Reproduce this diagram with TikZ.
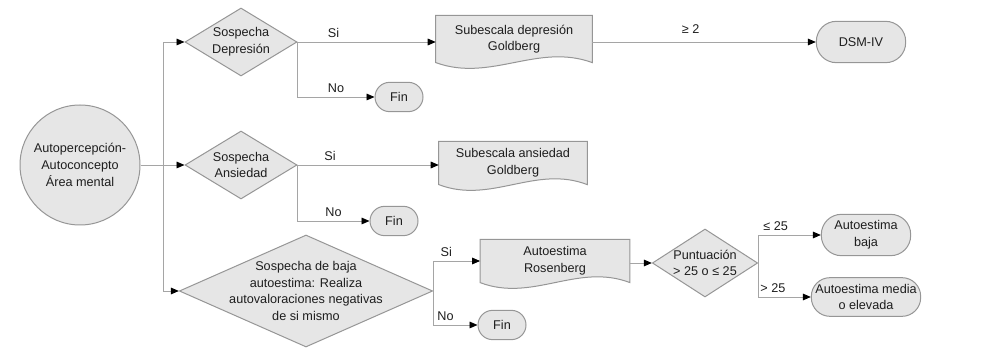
\documentclass[tikz,border=0pt]{standalone}
\usepackage{fontspec}
\setmainfont{Liberation Sans}
\usepackage{tikz}
\usetikzlibrary{shapes.geometric}
\usetikzlibrary{arrows.meta}
\usetikzlibrary{backgrounds}
\usetikzlibrary{calc}

\definecolor{boxfill}{RGB}{230,230,230}
\definecolor{boxline}{RGB}{150,150,150}
\definecolor{wire}{RGB}{165,165,165}
\definecolor{ink}{RGB}{30,30,30}

\tikzset{
  txt/.style={font=\fontsize{9.5}{12.5}\selectfont, text=ink, align=center},
  start/.style={txt, circle, draw=boxline, fill=boxfill, line width=0.75pt, minimum size=90pt, inner sep=0pt},
  decision/.style={txt, diamond, draw=boxline, fill=boxfill, line width=0.75pt, inner sep=-10pt},
  doc/.style={txt, rectangle, inner sep=0pt},
  term/.style={txt, rectangle, draw=boxline, fill=boxfill, line width=0.75pt, inner sep=1pt},
  fin/.style={term, minimum width=36pt, minimum height=22pt, rounded corners=11pt},
  flow/.style={draw=wire, line width=0.7pt, -{Triangle[color=black, length=6pt, width=5pt]}},
  lbl/.style={txt, above, inner sep=3pt},
}

% document box with wavy bottom, drawn behind the node text
\newcommand{\docwave}[1]{%
  \begin{scope}[on background layer]
    \filldraw[draw=boxline, fill=boxfill, line width=0.75pt]
      (#1.south west) -- (#1.north west) -- (#1.north east) -- (#1.south east)
      .. controls ($(#1.south east)!0.35!(#1.south west)+(0,-20)$)
      and ($(#1.south east)!0.65!(#1.south west)+(0,20)$) .. (#1.south west) -- cycle;
  \end{scope}}

\begin{document}
\begin{tikzpicture}[x=0.75pt, y=-0.75pt]
  \useasboundingbox (0,0) rectangle (1006,348);

  % Define nodes
  \node[start] (self) at (80,165) {Autopercepción-\\Autoconcepto\\Área mental};
  \coordinate (trunk) at (163,165);
  \node[decision, aspect=1.65, minimum width=84pt, minimum height=51pt] (dep) at (241,42) {Sospecha\\Depresión};
  \node[decision, aspect=1.65, minimum width=84pt, minimum height=51pt] (anx) at (241,165) {Sospecha\\Ansiedad};
  \node[decision, aspect=2.26, minimum width=190pt, minimum height=84pt] (est) at (306,291)
    {Sospecha de baja\\autoestima: Realiza\\autovaloraciones negativas\\de si mismo};
  \node[doc, minimum width=117pt, minimum height=35pt] (gdep) at (514,39) {Subescala depresión\\Goldberg};
  \node[doc, minimum width=111pt, minimum height=32pt] (ganx) at (513,163) {Subescala ansiedad\\Goldberg};
  \node[doc, minimum width=112pt, minimum height=32pt] (rosen) at (555,261) {Autoestima\\Rosenberg};
  \node[decision, aspect=1.55, minimum width=79pt, minimum height=51pt] (score) at (705,263) {Puntuación\\> 25 o ≤ 25};
  \node[fin] (fin1) at (399,97) {Fin};
  \node[fin] (fin2) at (394,221) {Fin};
  \node[fin] (fin3) at (502,325) {Fin};
  \node[term, minimum width=67pt, minimum height=31pt, rounded corners=15pt] (dsm) at (861,42) {DSM-IV};
  \node[term, minimum width=67pt, minimum height=31pt, rounded corners=15pt] (low) at (866,235) {Autoestima\\baja};
  \node[term, minimum width=82pt, minimum height=29pt, rounded corners=14pt] (high) at (866,297) {Autoestima media\\o elevada};

  \docwave{gdep}
  \docwave{ganx}
  \docwave{rosen}

  % Connect nodes
  \draw[flow] (self.east) -- (anx.west);
  \draw[flow] (trunk) |- (dep.west);
  \draw[flow] (trunk) |- (est.west);
  \draw[flow] (dep.east) -- node[lbl, pos=0.26] {Si} (dep.east -| gdep.west);
  \draw[flow] (dep.east) |- node[lbl, pos=0.75] {No} (fin1.west);
  \draw[flow] (gdep.east |- dep.east) -- node[lbl, pos=0.44, yshift=3pt] {≥ 2} (dsm.west);
  \draw[flow] (anx.east) -- node[lbl, pos=0.23] {Si} (anx.east -| ganx.west);
  \draw[flow] (anx.east) |- node[lbl, pos=0.75] {No} (fin2.west);
  \draw[flow] (est.east) |- node[lbl, pos=0.64] {Si} (rosen.west);
  \draw[flow] (est.east) |- node[lbl, pos=0.64] {No} (fin3.west);
  \draw[flow] (rosen.east |- score.west) -- (score.west);
  \draw[flow] (score.east) |- node[lbl, pos=0.64] {≤ 25} (low.west);
  \draw[flow] (score.east) |- node[lbl, pos=0.64] {> 25} (high.west);

\end{tikzpicture}
\end{document}
